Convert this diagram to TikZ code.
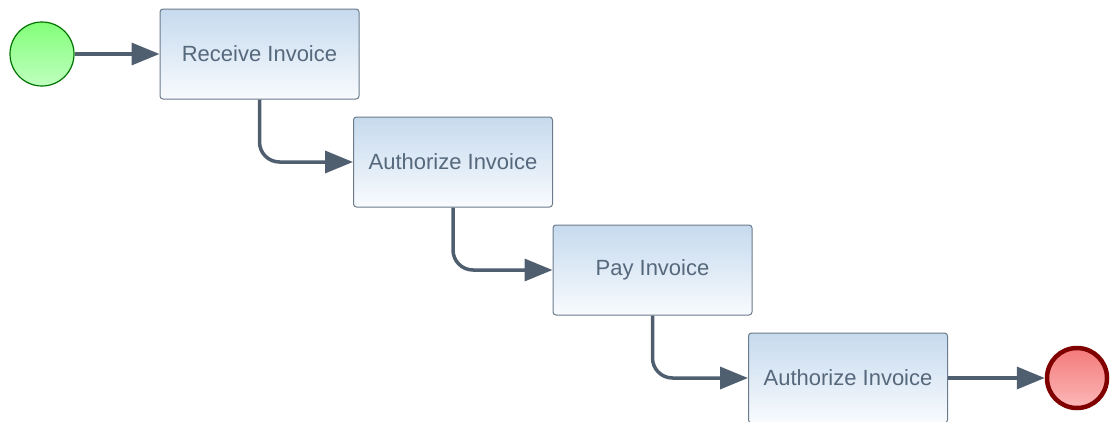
\documentclass[tikz,border=0pt]{standalone}
\usepackage{fontspec}
\setmainfont{Liberation Sans}
\usetikzlibrary{arrows.meta}
\definecolor{flowline}{HTML}{505F70}
\definecolor{boxedge}{HTML}{6B7B8C}
\definecolor{boxtop}{HTML}{C6DAEE}
\definecolor{boxbot}{HTML}{F8FBFE}
\definecolor{labeltext}{HTML}{56687C}
\tikzset{
  task/.style={draw=boxedge, line width=1pt, rounded corners=3pt,
    top color=boxtop, bottom color=boxbot,
    minimum width=199pt, minimum height=90pt, inner sep=0pt,
    text=labeltext, font=\fontsize{22}{26}\selectfont},
  startev/.style={circle, draw=green!45!black, line width=1.2pt,
    top color=green!50!white!95!lime, bottom color=green!25!white,
    minimum size=64pt, inner sep=0pt},
  endev/.style={circle, draw={rgb,255:red,128;green,0;blue,0}, line width=4.5pt,
    top color={rgb,255:red,244;green,122;blue,122},
    bottom color={rgb,255:red,252;green,184;blue,184},
    minimum size=60pt, inner sep=0pt},
  flow/.style={draw=flowline, line width=3.5pt, rounded corners=20pt,
    -{Triangle[length=28pt,width=22pt]}}
}
\begin{document}
\begin{tikzpicture}[x=1pt,y=-1pt]
  \useasboundingbox (0,0) rectangle (1110,421);
  \clip (0,0) rectangle (1110,421);
  \node[startev] (start) at (42,54) {};
  \node[task] (recv) at (259.5,54) {Receive Invoice};
  \node[task] (auth1) at (453,162) {Authorize Invoice};
  \node[task] (pay) at (652.5,270) {Pay Invoice};
  \node[task] (auth2) at (848,378) {Authorize Invoice};
  \node[endev] (stop) at (1077,378) {};
  \draw[flow] (start.east) -- (recv.west);
  \draw[flow] (recv.south) |- (auth1.west);
  \draw[flow] (auth1.south) |- (pay.west);
  \draw[flow] (pay.south) |- (auth2.west);
  \draw[flow] (auth2.east) -- (stop.west);
\end{tikzpicture}
\end{document}
